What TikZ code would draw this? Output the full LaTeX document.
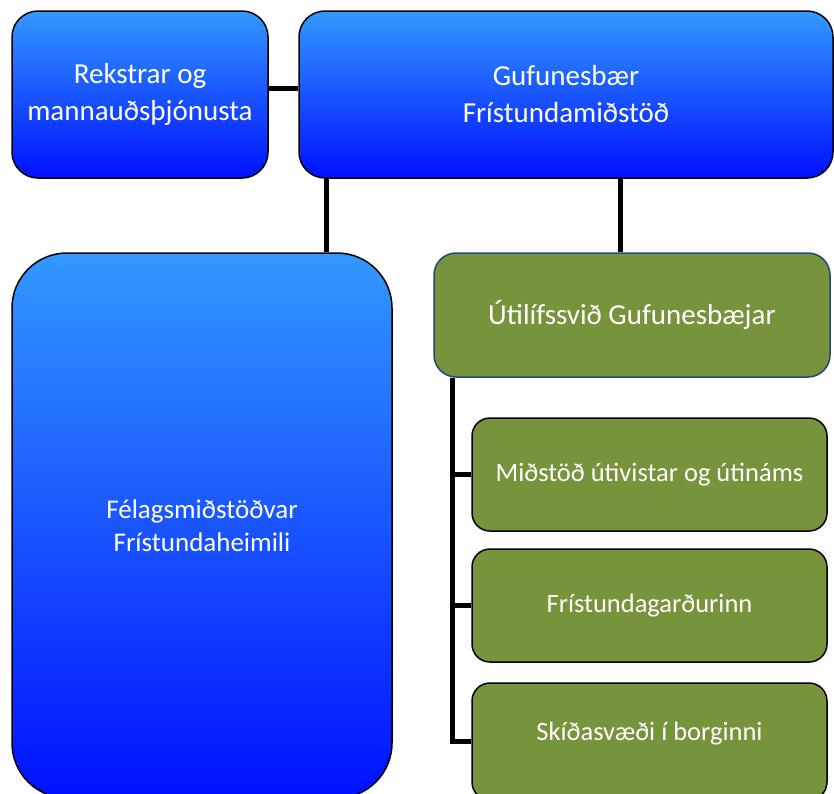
\documentclass[tikz,border=0pt]{standalone}
\usepackage{fontspec}
\setmainfont{Carlito}
\definecolor{btop}{RGB}{51,153,255}
\definecolor{bbot}{RGB}{0,16,255}
\definecolor{ogreen}{RGB}{119,147,60}
\definecolor{dblue}{RGB}{31,73,125}
\tikzset{
  bluebox/.style={draw=black, line width=1.5pt, top color=btop, bottom color=bbot,
    text=white, align=center, inner sep=0pt, font=\fontsize{29}{37}\selectfont},
  greenbox/.style={draw=black, line width=1.5pt, fill=ogreen, text=white, align=center,
    inner sep=0pt, rounded corners=18pt, font=\fontsize{26.5}{30}\selectfont},
  conn/.style={draw=black, line width=5pt}
}
\begin{document}
\begin{tikzpicture}[x=1pt,y=-1pt]
\useasboundingbox (0,0) rectangle (834,793);
\clip (0,0) rectangle (834,793);
\node[bluebox, rounded corners=26pt, minimum width=256pt, minimum height=167pt] (A) at (140,94.5)
  {Rekstrar og\\mannauðsþjónusta};
\node[bluebox, rounded corners=26pt, minimum width=534pt, minimum height=167pt] (B) at (566,94.5)
  {Gufunesbær\\Frístundamiðstöð};
\node[bluebox, rounded corners=55pt, minimum width=380pt, minimum height=545pt,
  font=\fontsize{27}{33}\selectfont] (C) at (202,525.5)
  {Félagsmiðstöðvar\\Frístundaheimili};
\node[greenbox, draw=dblue, rounded corners=22pt, minimum width=396pt, minimum height=124pt,
  font=\fontsize{29}{30}\selectfont] (D) at (632,315)
  {Útilífssvið Gufunesbæjar};
\node[greenbox, minimum width=355pt, minimum height=113pt] (E) at (649.5,474.5)
  {Miðstöð útivistar og útináms};
\node[greenbox, minimum width=355pt, minimum height=113pt] (F) at (649.5,605.5)
  {Frístundagarðurinn};
\node[greenbox, minimum width=355pt, minimum height=117pt, text depth=20pt] (G) at (649.5,741.5)
  {Skíðasvæði í borginni};
\draw[conn] ([yshift=6pt]A.east) -- ([yshift=6pt]A.east -| B.west);
\coordinate (bc) at ([xshift=28pt]B.south west);
\draw[conn] (bc) -- (bc |- C.north);
\coordinate (bd) at ([xshift=-12pt]D.north);
\draw[conn] (bd) -- (bd |- B.south);
\coordinate (t) at ([xshift=19pt]D.south west);
\draw[conn] (t) |- (G.west);
\draw[conn] (t |- E.west) -- (E.west);
\draw[conn] (t |- F.west) -- (F.west);
\end{tikzpicture}
\end{document}
